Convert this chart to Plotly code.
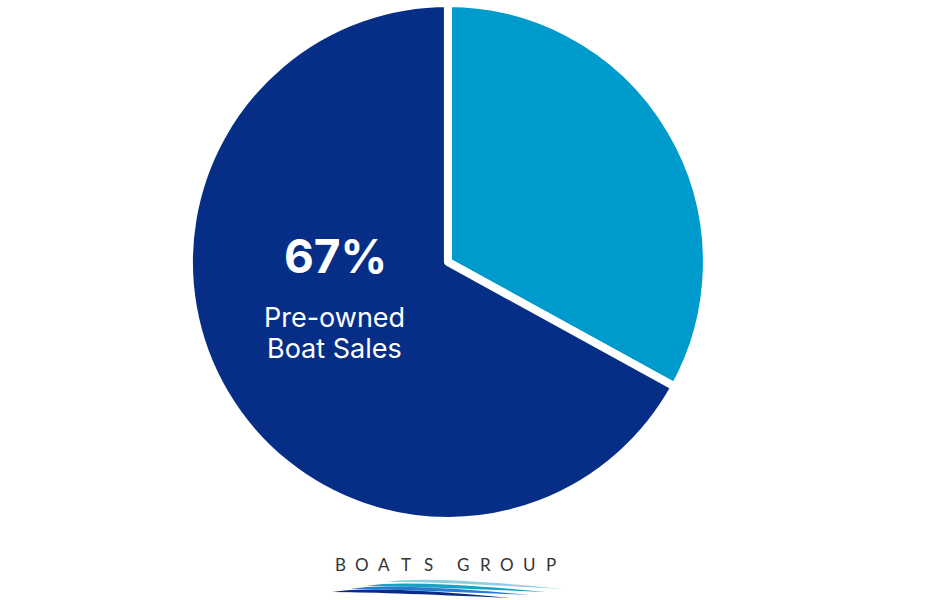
import plotly.graph_objects as go

labels = ["New Boat Sales", "Pre-owned Boat Sales"]
values = [33, 67]
colors = ["#009BCD", "#072E86"]
main_pct = values[1]
main_label = ["Pre-owned", "Boat Sales"]
brand_words = ["BOATS", "GROUP"]

W, H = 947, 600

fig = go.Figure(go.Pie(
    labels=labels, values=values, sort=False, direction="clockwise", rotation=0,
    marker=dict(colors=colors, line=dict(color="white", width=8)),
    textinfo="none", hoverinfo="label+percent", showlegend=False,
    domain=dict(x=[0, 0.946], y=[1 - 521 / H, 1 - 3 / H]),
))

def px(x, y):
    return x / W, 1 - y / H

def ann(xp, yp, text, font):
    x, y = px(xp, yp)
    return dict(x=x, y=y, xref="paper", yref="paper", text=text, showarrow=False,
                xanchor="center", yanchor="middle", font=font)

anns = [ann(335, 256, f"<b>{main_pct}%</b>",
            dict(family="Inter, Open Sans", size=46, color="white"))]
for i, t in enumerate(main_label):
    anns.append(ann(334, 317 + 31 * i, t,
                    dict(family="Inter, Open Sans", size=27, color="white")))

# brand letters, spaced out
starts = [340, 463]
pitch = 22
for w, sx in zip(brand_words, starts):
    for i, ch in enumerate(w):
        anns.append(ann(sx + pitch * i, 564, ch,
                        dict(family="Lato, Open Sans", size=17, color="#333333")))

def wave(x0, y0, cx, cy, x1, y1, thick, color):
    a = px(x0, y0); c = px(cx, cy); b = px(x1, y1)
    c2 = px(cx, cy + thick * 2)
    p = (f"M {a[0]},{a[1]} Q {c[0]},{c[1]} {b[0]},{b[1]} "
         f"Q {c2[0]},{c2[1]} {a[0]},{a[1]} Z")
    return dict(type="path", xref="paper", yref="paper", path=p,
                fillcolor=color, line=dict(width=0), layer="above")

shapes = [
    wave(387, 582, 425, 575, 564, 589, 3, "#8ED0DF"),
    wave(366, 586, 405, 579, 546, 592, 3.5, "#1AA0C0"),
    wave(350, 589, 390, 582, 530, 595, 3.5, "#2B7BD3"),
    wave(332, 592, 375, 585, 510, 598, 3.5, "#0A2C86"),
]

fig.update_layout(
    width=W, height=H, margin=dict(l=0, r=0, t=0, b=0),
    paper_bgcolor="white", plot_bgcolor="white",
    annotations=anns, shapes=shapes,
)
fig.write_html("out.html", config={"displayModeBar": False},
               post_script="document.body.style.margin='0';")
